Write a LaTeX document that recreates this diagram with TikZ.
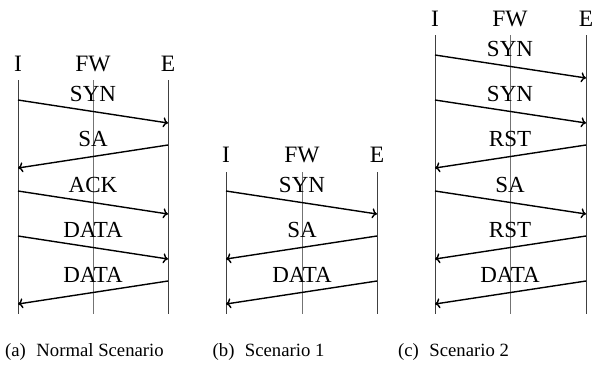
\documentclass[tikz,border=0pt]{standalone}
\usepackage{fontspec}
\setmainfont{Liberation Serif}
\usetikzlibrary{arrows.meta}
\begin{document}
\begin{tikzpicture}[x=1pt,y=-1pt,
  life/.style={draw=black!75, line width=0.9pt},
  fwlife/.style={draw=black!55, line width=1pt},
  msg/.style={draw=black, line width=1.4pt, -{To[length=5pt,width=10pt]}},
  hdr/.style={font=\fontsize{23.5}{28}\selectfont, inner sep=0pt, anchor=base},
  lbl/.style={font=\fontsize{23}{28}\selectfont, inner sep=0pt, anchor=base},
  captxt/.style={font=\fontsize{18.7}{22}\selectfont, inner sep=0pt, anchor=base west}]
\useasboundingbox (0,0) rectangle (592,370);

% ---------- (a) ----------
\node[hdr] (aIh) at (18,71) {I};
\node[hdr] (aFh) at (93,71) {FW};
\node[hdr] (aEh) at (168,71) {E};
\coordinate (aIt) at (18,80);  \coordinate (aIb) at (18,314);
\coordinate (aFt) at (93,80);  \coordinate (aFb) at (93,314);
\coordinate (aEt) at (168,80); \coordinate (aEb) at (168,314);
\draw[life] (aIt) -- (aIb);
\draw[fwlife] (aFt) -- (aFb);
\draw[life] (aEt) -- (aEb);
\foreach \n/\y/\xs/\xe/\t in {1/100/18/168/SYN, 2/145/168/18/SA, 3/191/18/168/ACK, 4/236/18/168/DATA, 5/281/168/18/DATA}{
  \coordinate (a\n-s) at (\xs,\y);
  \coordinate (a\n-e) at (\xe,\y+23);
  \draw[msg] (a\n-s) -- (a\n-e);
  \node[lbl] (a\n-l) at (93,\y+1.5) {\t};
}

% ---------- (b) ----------
\node[hdr] (bIh) at (226,162) {I};
\node[hdr] (bFh) at (302,162) {FW};
\node[hdr] (bEh) at (377,162) {E};
\coordinate (bIt) at (226,172); \coordinate (bIb) at (226,314);
\coordinate (bFt) at (302,172); \coordinate (bFb) at (302,314);
\coordinate (bEt) at (377,172); \coordinate (bEb) at (377,314);
\draw[life] (bIt) -- (bIb);
\draw[fwlife] (bFt) -- (bFb);
\draw[life] (bEt) -- (bEb);
\foreach \n/\y/\xs/\xe/\t in {1/191/226/377/SYN, 2/236/377/226/SA, 3/281/377/226/DATA}{
  \coordinate (b\n-s) at (\xs,\y);
  \coordinate (b\n-e) at (\xe,\y+23);
  \draw[msg] (b\n-s) -- (b\n-e);
  \node[lbl] (b\n-l) at (302,\y+1.5) {\t};
}

% ---------- (c) ----------
\node[hdr] (cIh) at (435,26) {I};
\node[hdr] (cFh) at (510,26) {FW};
\node[hdr] (cEh) at (586,26) {E};
\coordinate (cIt) at (435,35); \coordinate (cIb) at (435,314);
\coordinate (cFt) at (510,35); \coordinate (cFb) at (510,314);
\coordinate (cEt) at (586,35); \coordinate (cEb) at (586,314);
\draw[life] (cIt) -- (cIb);
\draw[fwlife] (cFt) -- (cFb);
\draw[life] (cEt) -- (cEb);
\foreach \n/\y/\xs/\xe/\t in {1/55/435/586/SYN, 2/100/435/586/SYN, 3/145/586/435/RST, 4/191/435/586/SA, 5/236/586/435/RST, 6/281/586/435/DATA}{
  \coordinate (c\n-s) at (\xs,\y);
  \coordinate (c\n-e) at (\xe,\y+23);
  \draw[msg] (c\n-s) -- (c\n-e);
  \node[lbl] (c\n-l) at (510,\y+1.5) {\t};
}

% ---------- captions ----------
\node[captxt] (capa) at (5,356) {(a)\hspace{10.5pt}Normal Scenario};
\node[captxt] (capb) at (212.5,356) {(b)\hspace{10.5pt}Scenario 1};
\node[captxt] (capc) at (398,356) {(c)\hspace{10.5pt}Scenario 2};
\end{tikzpicture}
\end{document}
